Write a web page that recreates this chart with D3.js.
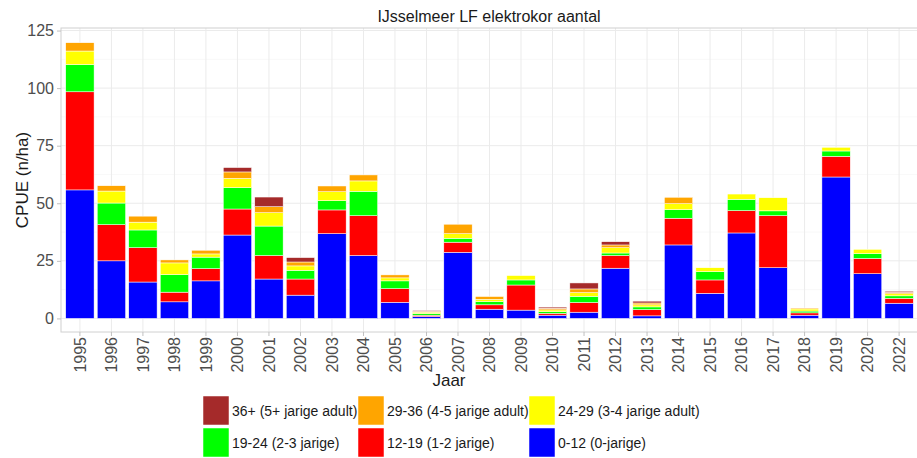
<!DOCTYPE html>
<html>
<head>
<meta charset="utf-8">
<script src="https://cdn.jsdelivr.net/npm/d3@7"></script>
<style>
  body { margin: 0; background: #fff; }
  svg { font-family: "Liberation Sans", Arial, sans-serif; }
</style>
</head>
<body>
<div class="canvas"></div>
<script>
const years = ["1995","1996","1997","1998","1999","2000","2001","2002","2003","2004","2005","2006","2007","2008","2009","2010","2011","2012","2013","2014","2015","2016","2017","2018","2019","2020","2022"];

// CPUE per lengteklasse (n/ha)
const len0_12  = [55.8,25.0,15.8,7.2,16.3,36.2,17.1,10.1,36.8,27.3,7.0,0.8,28.7,4.0,3.6,1.4,2.7,21.8,1.1,31.9,10.9,37.1,22.0,1.4,61.4,19.4,6.6];
const len12_19 = [42.6,15.7,14.9,4.2,5.3,11.3,10.2,7.0,10.3,17.3,5.9,0.6,4.4,1.9,10.9,0.8,4.2,5.5,2.7,11.6,5.8,9.7,22.6,1.0,9.0,6.6,2.1];
const len19_24 = [11.8,9.4,7.7,7.6,5.0,9.3,12.8,3.8,4.0,10.6,3.4,0.7,1.7,1.4,2.2,0.7,2.7,1.1,1.2,3.7,3.6,4.9,2.1,0.8,2.3,2.1,1.1];
const len24_29 = [5.9,5.2,3.4,5.1,1.4,4.0,5.8,1.9,3.9,4.5,1.3,0.6,2.0,1.0,1.9,0.8,1.6,2.3,0.9,2.6,1.7,2.3,5.7,0.9,1.6,1.9,0.9];
const len29_36 = [3.6,2.3,2.6,1.3,1.6,2.8,2.6,1.7,2.5,2.6,1.3,0.4,4.1,1.2,0,0.7,1.6,1.2,0.8,2.8,0,0,0,0.4,0,0,0.6];
const len36    = [0,0,0,0,0,1.9,4.2,1.9,0,0,0,0.3,0,0,0,0.5,2.6,1.4,0.8,0,0,0,0,0,0,0,0.5];

const keys = ["a","b","c","d","e","f"];
const colors = ["#0000FF","#FF0000","#00FF00","#FFFF00","#FFA500","#A52A2A"];
const labels = ["0-12 (0-jarige)","12-19 (1-2 jarige)","19-24 (2-3 jarige)","24-29 (3-4 jarige adult)","29-36 (4-5 jarige adult)","36+ (5+ jarige adult)"];
const yTicks = [0,25,50,75,100,125];

const rows = years.map((y, i) => ({
  year: y, a: len0_12[i], b: len12_19[i], c: len19_24[i], d: len24_29[i], e: len29_36[i], f: len36[i]
}));

const W = 917, H = 458;
const pLeft = 61, pRight = 918, pTop = 28, pBottom = 332;

const svg = d3.select(".canvas").append("svg").attr("width", W).attr("height", H);

let x = d3.scaleBand().domain(years).range([pLeft, pRight]).paddingInner(0.1).paddingOuter(0.15);
let y = d3.scaleLinear().domain([-5.9, 126.1]).range([pBottom, pTop]);

// gridlines
const minor = d3.range(12.5, 126, 25);
svg.append("g").selectAll("line").data(minor).enter().append("line")
  .attr("x1", pLeft).attr("x2", pRight)
  .attr("y1", d => y(d)).attr("y2", d => y(d))
  .attr("stroke", "#f4f4f4").attr("stroke-width", 0.6);
svg.append("g").selectAll("line").data(yTicks).enter().append("line")
  .attr("x1", pLeft).attr("x2", pRight)
  .attr("y1", d => y(d)).attr("y2", d => y(d))
  .attr("stroke", "#ebebeb").attr("stroke-width", 1);
svg.append("g").selectAll("line").data(years).enter().append("line")
  .attr("x1", d => x(d) + x.bandwidth() / 2).attr("x2", d => x(d) + x.bandwidth() / 2)
  .attr("y1", pTop).attr("y2", pBottom)
  .attr("stroke", "#ebebeb").attr("stroke-width", 1);

// stacked bars
const stacked = d3.stack().keys(keys)(rows);
svg.append("g").selectAll("g").data(stacked).enter().append("g")
  .attr("fill", (d, i) => colors[i])
  .selectAll("rect").data(d => d).enter().append("rect")
  .attr("x", d => x(d.data.year))
  .attr("width", x.bandwidth())
  .attr("y", d => y(d[1]))
  .attr("height", d => Math.max(0, y(d[0]) - y(d[1])))
  .attr("stroke", "#ffffff").attr("stroke-width", 0.5);

// panel border
svg.append("rect").attr("x", pLeft).attr("y", pTop).attr("width", pRight - pLeft).attr("height", pBottom - pTop)
  .attr("fill", "none").attr("stroke", "#d0d0d0").attr("stroke-width", 1);

// axes
let yAxis = svg.append("g").attr("transform", `translate(${pLeft},0)`)
  .call(d3.axisLeft(y).tickValues(yTicks).tickSize(4).tickPadding(3));
let xAxis = svg.append("g").attr("transform", `translate(0,${pBottom})`)
  .call(d3.axisBottom(x).tickSize(4).tickPadding(3));
[yAxis, xAxis].forEach(a => {
  a.select(".domain").remove();
  a.selectAll(".tick line").attr("stroke", "#c0c0c0");
  a.selectAll(".tick text").attr("fill", "#4d4d4d").style("font-size", "16px")
    .style("font-family", "Liberation Sans, Arial, sans-serif");
});
xAxis.selectAll(".tick text")
  .attr("transform", "rotate(-90)")
  .attr("text-anchor", "end")
  .attr("x", -5).attr("y", 0).attr("dy", "0.35em");

// titles
svg.append("text").attr("x", 489).attr("y", 22).attr("text-anchor", "middle")
  .style("font-size", "16px").attr("fill", "#1a1a1a").text("IJsselmeer LF elektrokor aantal");
svg.append("text").attr("transform", `translate(28,${(pTop + pBottom) / 2}) rotate(-90)`)
  .attr("text-anchor", "middle").style("font-size", "17px").attr("fill", "#1a1a1a").text("CPUE (n/ha)");
svg.append("text").attr("x", 449).attr("y", 386).attr("text-anchor", "middle")
  .style("font-size", "17px").attr("fill", "#1a1a1a").text("Jaar");

// legend: 2 rows x 3 columns
const legendOrder = [5, 4, 3, 2, 1, 0];
const colX = [203, 358, 529];
const rowY = [396, 428];
const lg = svg.append("g").selectAll("g").data(legendOrder).enter().append("g")
  .attr("transform", (d, i) => `translate(${colX[i % 3]},${rowY[Math.floor(i / 3)]})`);
lg.append("rect").attr("width", 26).attr("height", 29)
  .attr("fill", d => colors[d]).attr("stroke", "#ffffff").attr("stroke-width", 0.5);
lg.append("text").attr("x", 29).attr("y", 15).attr("dy", "0.35em")
  .style("font-size", "14px").attr("fill", "#1a1a1a").text(d => labels[d]);
</script>
</body>
</html>
